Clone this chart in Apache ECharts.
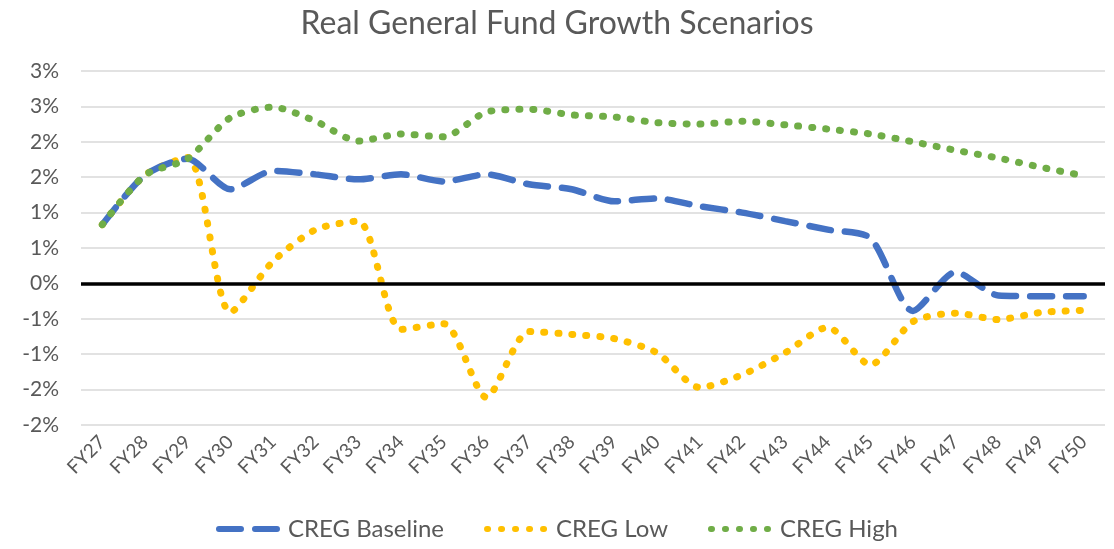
<!DOCTYPE html>
<html>
<head>
<meta charset="utf-8">
<script src="https://cdn.jsdelivr.net/npm/echarts@6/dist/echarts.min.js"></script>
<style>
  html, body { margin: 0; padding: 0; background: #fff; }
  #chart { width: 1114px; height: 549px; }
</style>
</head>
<body>
<div id="chart"></div>
<script>
const years = ['FY27', 'FY28', 'FY29', 'FY30', 'FY31', 'FY32', 'FY33', 'FY34', 'FY35', 'FY36', 'FY37', 'FY38',
  'FY39', 'FY40', 'FY41', 'FY42', 'FY43', 'FY44', 'FY45', 'FY46', 'FY47', 'FY48', 'FY49', 'FY50']

// growth rates, percent
const cregBaseline = [0.83, 1.53, 1.76, 1.33, 1.59, 1.54, 1.47, 1.54, 1.44, 1.54, 1.40, 1.33,
  1.16, 1.20, 1.09, 1.00, 0.88, 0.76, 0.64, -0.39, 0.16, -0.17, -0.18, -0.18]
const cregLow = [0.83, 1.53, 1.78, -0.41, 0.31, 0.76, 0.88, -0.65, -0.57, -1.61, -0.68, -0.72,
  -0.78, -0.98, -1.47, -1.29, -0.98, -0.62, -1.15, -0.54, -0.42, -0.51, -0.41, -0.38]
const cregHigh = [0.83, 1.53, 1.76, 2.34, 2.49, 2.29, 2.01, 2.11, 2.07, 2.42, 2.46, 2.38,
  2.35, 2.27, 2.25, 2.29, 2.24, 2.18, 2.11, 2.00, 1.88, 1.77, 1.64, 1.52]

const textColor = '#595959'
const font = 'Lato, "Open Sans", sans-serif'

// excel shows whole percents, rounding halves away from zero
function pct(v) {
  const r = Math.sign(v) * Math.round(Math.abs(v))
  return (r === 0 ? 0 : r) + '%'
}

const chart = echarts.init(document.getElementById('chart'), null, { renderer: 'canvas' })
chart.setOption({
  animation: false,
  title: {
    text: 'Real General Fund Growth Scenarios',
    left: 'center',
    top: 3,
    textStyle: { fontFamily: font, fontSize: 32, fontWeight: 'normal', color: textColor }
  },
  legend: {
    bottom: 3,
    left: 'center',
    itemWidth: 64,
    itemHeight: 14,
    itemGap: 40,
    itemStyle: { opacity: 0 },
    lineStyle: { width: 6 },
    textStyle: { fontFamily: font, fontSize: 24, color: textColor },
    data: ['CREG Baseline', 'CREG Low', 'CREG High']
  },
  grid: { left: 81, right: 9, top: 71, bottom: 124 },
  xAxis: {
    type: 'category',
    data: years,
    boundaryGap: true,
    axisLine: { show: false },
    axisTick: { show: false },
    axisLabel: {
      rotate: 45,
      interval: 0,
      margin: 14,
      fontFamily: font,
      fontSize: 19,
      color: textColor
    }
  },
  yAxis: {
    type: 'value',
    min: -2,
    max: 3,
    interval: 0.5,
    axisLine: { show: false },
    axisTick: { show: false },
    axisLabel: {
      margin: 22,
      fontFamily: font,
      fontSize: 21,
      color: textColor,
      formatter: pct
    },
    splitLine: { lineStyle: { color: '#d9d9d9', width: 1.5 } }
  },
  series: [
    {
      name: 'CREG Baseline',
      type: 'line',
      data: cregBaseline,
      smooth: 0.25,
      symbol: 'none',
      color: '#4472C4',
      lineStyle: { width: 6.5, type: [22, 14], cap: 'round', color: '#4472C4' },
      markLine: {
        silent: true,
        symbol: 'none',
        label: { show: false },
        lineStyle: { color: '#000', width: 3.5, type: 'solid' },
        data: [{ yAxis: 0 }]
      },
      z: 4
    },
    {
      name: 'CREG Low',
      type: 'line',
      data: cregLow,
      smooth: 0.25,
      symbol: 'none',
      color: '#FFC000',
      lineStyle: { width: 7, type: [1, 13], cap: 'round', color: '#FFC000' },
      z: 3
    },
    {
      name: 'CREG High',
      type: 'line',
      data: cregHigh,
      smooth: 0.25,
      symbol: 'none',
      color: '#70AD47',
      lineStyle: { width: 7, type: [1, 13], cap: 'round', color: '#70AD47' },
      z: 5
    }
  ]
})
</script>
</body>
</html>
